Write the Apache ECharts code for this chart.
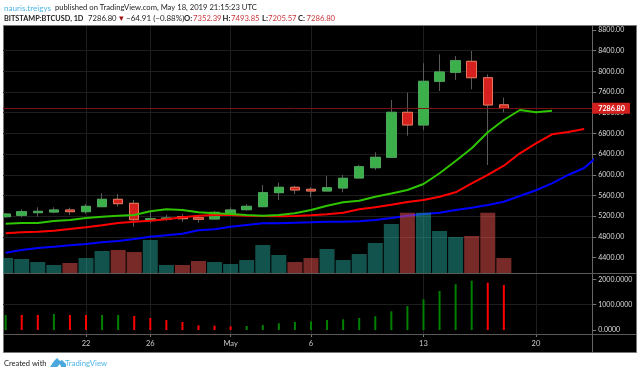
<!DOCTYPE html>
<html><head><meta charset="utf-8">
<style>html,body{margin:0;padding:0;background:#fff}#c{width:640px;height:374px}</style>
<script src="https://cdn.jsdelivr.net/npm/echarts@6/dist/echarts.min.js"></script>
</head><body><div id="c"></div>
<script>
const days=['Apr 17','Apr 18','Apr 19','Apr 20','Apr 21','Apr 22','Apr 23','Apr 24','Apr 25','Apr 26','Apr 27','Apr 28','Apr 29','Apr 30','May 1','May 2','May 3','May 4','May 5','May 6','May 7','May 8','May 9','May 10','May 11','May 12','May 13','May 14','May 15','May 16','May 17','May 18','May 19','May 20','May 21','May 22','May 23'];
const timeLabels={'Apr 22':'22','Apr 26':'26','May 1':'May','May 6':'6','May 13':'13','May 20':'20'};
const opens =[5189,5216,5267,5280,5319,5286,5383,5526,5448,5125,5139,5189,5170,5145,5241,5325,5383,5654,5758,5719,5686,5744,5938,6137,6338,7208,6963,7808,7982,8194,7877,7352.39];
const closes=[5241,5286,5294,5319,5286,5390,5526,5441,5131,5150,5164,5150,5139,5274,5319,5390,5654,5758,5706,5686,5750,5932,6156,6338,7208,6963,7808,7988,8206,7877,7350,7286.8];
const lows  =[5170,5178,5189,5255,5222,5247,5383,5383,4996,5062,5112,5092,5073,5145,5222,5306,5383,5512,5628,5565,5686,5661,5938,6092,6330,6756,6866,7620,7833,7653,6189,7205.57];
const highs =[5260,5332,5371,5371,5363,5435,5642,5628,5512,5286,5222,5241,5222,5300,5371,5435,5802,5847,5789,5758,5976,5996,6189,6435,7446,7587,8156,8330,8297,8394,7943,7493.85];
const volumes=[25.2,23.6,18.6,13.7,17,25.2,36.8,38.4,35.1,55,13.7,13.7,20.3,18.6,15.3,21.9,46.7,30.2,18.6,25.2,40.1,21.9,31.8,50,81.4,100,100,69.8,59.9,61.6,100,25.2];
const jawBlue=[4493,4545,4584,4609,4636,4661,4694,4719,4758,4802,4829,4860,4926,4946,4996,5029,5062,5062,5073,5081,5092,5092,5100,5125,5165,5209,5241,5267,5319,5363,5416,5479,5590,5700,5835,5996,6131,6402];
const teethRed=[4868,4888,4899,4918,4951,4984,5023,5067,5092,5112,5139,5178,5209,5222,5222,5209,5203,5197,5203,5216,5236,5267,5332,5371,5420,5473,5512,5576,5661,5835,5996,6176,6415,6609,6783,6827,6885];
const lipsGreen=[5054,5067,5067,5106,5125,5164,5189,5209,5222,5294,5332,5319,5274,5255,5241,5222,5209,5222,5255,5319,5402,5468,5499,5576,5638,5706,5822,6029,6266,6512,6822,7059,7253,7208,7239];
const hist=[592,592,592,631,592,592,592,592,552,473,394,316,184,171,145,158,197,263,316,342,394,421,473,540,737,947,1210,1538,1803,1945,1866,1775];
const histRising=[1,0,0,1,0,0,1,1,0,0,0,0,0,0,0,1,1,1,1,1,1,1,1,1,1,1,1,1,1,1,0,0];
const priceTicks=[4400,4800,5200,5600,6000,6400,6800,7200,7600,8000,8400,8800];
const histTicks=[0,1000,2000];
const lastClose=closes[closes.length-1];

const FONT='Lato, "Open Sans", sans-serif';
const DARK='#222', RED='#c8353a', BLUE='#4db5e6', GRID='#1e1e1e';
const isTick=(i,v)=>v in timeLabels;
const headerLine2=[
 ['BITSTAMP:BTCUSD, 1D',4,DARK,'bold',7.3],['7286.80',88,DARK,'normal',7.7],['\u25BC',117.5,'#a01010','normal',7.7],
 ['\u221264.91 (\u22120.88%)',126,DARK,'normal',8],['O:',184,DARK,'bold',7.7],['7352.39',193,RED,'normal',7.7],
 ['H:',222.5,DARK,'bold',7.7],['7493.85',231,RED,'normal',7.7],['L:',262,DARK,'bold',7.7],['7205.57',268,RED,'normal',7.7],
 ['C:',298,DARK,'bold',7.7],['7286.80',306.5,RED,'normal',7.7]];
const txt=(t,x,y,fill,weight,size)=>({type:'text',x,y,z:50,style:{text:t,fill,fontFamily:FONT,fontSize:size,fontWeight:weight||'normal',verticalAlign:'middle'}});
const graphics=[
 {type:'rect',z:-20,shape:{x:3.5,y:25.5,width:633,height:327},style:{fill:'#000',stroke:'#777',lineWidth:1}},
 {type:'rect',z:40,shape:{x:0,y:0,width:3,height:374},style:{fill:'#fff'}},
 {type:'line',z:-5,shape:{x1:592.5,y1:26,x2:592.5,y2:352},style:{stroke:'#666',lineWidth:1}},
 {type:'line',z:30,shape:{x1:4,y1:273.5,x2:636,y2:273.5},style:{stroke:'#5a5a5a',lineWidth:1}},
 {type:'line',z:30,shape:{x1:4,y1:334.5,x2:636,y2:334.5},style:{stroke:'#5a5a5a',lineWidth:1}},
 txt('nauris.treigys',4,8,BLUE,'normal',8.1),txt('published on TradingView.com, May 18, 2019 21:15:23 UTC',55,8,DARK,'normal',7.65),
 ...headerLine2.map(r=>txt(r[0],r[1],18.5,r[2],r[3],r[4])),
 txt('Created with',4,363.5,DARK,'normal',7.5),
 {type:'polygon',z:50,shape:{points:[[50,367],[54,361],[57,358],[60,361],[62,360],[66,364],[66,367],[61,367],[60,364],[57,367]]},style:{fill:'#4aa8dc'}},
 txt('TradingView',65,363.5,BLUE,'normal',7.8)
];
const hiddenCat=g=>({type:'category',gridIndex:g,data:days,show:false,boundaryGap:true});
const L=-2.38,W=594.6;
const option={
 animation:false,backgroundColor:'#fff',graphic:{elements:graphics},
 grid:[
  {left:5.65,width:578.52,top:26,height:308,outerBoundsMode:'none'},
  {left:L,width:W,top:9.3,height:268.9,outerBoundsMode:'none'},
  {left:L,width:W,top:212.7,height:60.6,outerBoundsMode:'none'},
  {left:L,width:W,top:253.95,height:101.4,outerBoundsMode:'none'}
 ],
 xAxis:[
  {type:'category',gridIndex:0,data:days,boundaryGap:false,axisLine:{show:false},
   axisTick:{show:true,length:3,interval:isTick,lineStyle:{color:'#777'}},
   splitLine:{show:true,interval:isTick,lineStyle:{color:GRID,width:1}},
   axisLabel:{interval:isTick,formatter:v=>timeLabels[v]||'',color:'#ccc',fontSize:7.5,fontFamily:FONT,margin:6}},
  hiddenCat(1),hiddenCat(2),hiddenCat(3),
  {type:'value',gridIndex:1,min:-0.5,max:36.5,show:false,splitLine:{show:false}}
 ],
 yAxis:[
  {type:'value',gridIndex:1,position:'right',min:4000,max:9200,interval:400,axisLine:{show:false,onZero:false},
   axisTick:{show:true,length:4,customValues:priceTicks,lineStyle:{color:'#777'}},
   splitLine:{show:true,showMinLine:false,showMaxLine:false,lineStyle:{color:GRID}},
   axisLabel:{show:true,customValues:priceTicks,color:'#ddd',fontSize:7,fontFamily:FONT,margin:6,formatter:v=>v.toFixed(2)}},
  {type:'value',gridIndex:2,min:0,max:100,show:false,splitLine:{show:false}},
  {type:'value',gridIndex:3,position:'right',min:-1000,max:3000,interval:1000,axisLine:{show:false,onZero:false},
   axisTick:{show:true,length:4,customValues:histTicks,lineStyle:{color:'#777'}},
   splitLine:{show:true,showMinLine:false,showMaxLine:false,lineStyle:{color:GRID}},
   axisLabel:{show:true,customValues:histTicks,color:'#ddd',fontSize:7,fontFamily:FONT,margin:6,formatter:v=>v.toFixed(4)}},
  {type:'value',gridIndex:0,min:0,max:1,show:false,splitLine:{show:false}}
 ],
 series:[
  {name:'Wicks',type:'candlestick',xAxisIndex:1,yAxisIndex:0,z:3,barWidth:10,
   data:opens.map((o,i)=>[o,closes[i],lows[i],highs[i]]),
   itemStyle:{color:'#555',color0:'#555',borderColor:'#5a5a5a',borderColor0:'#5a5a5a',borderWidth:1},
   markLine:{silent:true,symbol:'none',data:[{yAxis:lastClose}],lineStyle:{color:'#7a1414',type:'solid',width:1},
    label:{show:true,position:'end',distance:0,formatter:()=>lastClose.toFixed(2),color:'#fff',fontWeight:'bold',fontSize:7.2,fontFamily:FONT,backgroundColor:'#d3201f',padding:[2,5,2,6]}}},
  {name:'Bodies',type:'candlestick',xAxisIndex:1,yAxisIndex:0,z:4,barWidth:10,
   data:opens.map((o,i)=>[o,closes[i],Math.min(o,closes[i]),Math.max(o,closes[i])]),
   itemStyle:{color:'#3bb04a',color0:'#d6211e',borderColor:'#4aa858',borderColor0:'#e8765a',borderWidth:1}},
  {name:'Jaw',type:'line',xAxisIndex:4,yAxisIndex:0,z:5,showSymbol:false,symbol:'none',data:jawBlue.map((v,i)=>[i,v]),lineStyle:{color:'#0000ff',width:2}},
  {name:'Teeth',type:'line',xAxisIndex:4,yAxisIndex:0,z:5,showSymbol:false,symbol:'none',data:teethRed.map((v,i)=>[i,v]),lineStyle:{color:'#ff0000',width:2}},
  {name:'Lips',type:'line',xAxisIndex:4,yAxisIndex:0,z:5,showSymbol:false,symbol:'none',data:lipsGreen.map((v,i)=>[i,v]),lineStyle:{color:'#2fc400',width:2}},
  {name:'Volume',type:'bar',xAxisIndex:2,yAxisIndex:1,z:6,barWidth:15,
   data:volumes.map((v,i)=>({value:v,itemStyle:{color:closes[i]>=opens[i]?'rgba(38,166,154,0.5)':'rgba(239,83,80,0.5)'}}))},
  {name:'Histogram',type:'bar',xAxisIndex:3,yAxisIndex:2,z:6,barWidth:2,
   data:hist.map((v,i)=>({value:v,itemStyle:{color:histRising[i]?'#008000':'#ff0000'}}))}
 ]
};
const chart=echarts.init(document.getElementById('c'),null,{renderer:'canvas'});
chart.setOption(option);
</script></body></html>
